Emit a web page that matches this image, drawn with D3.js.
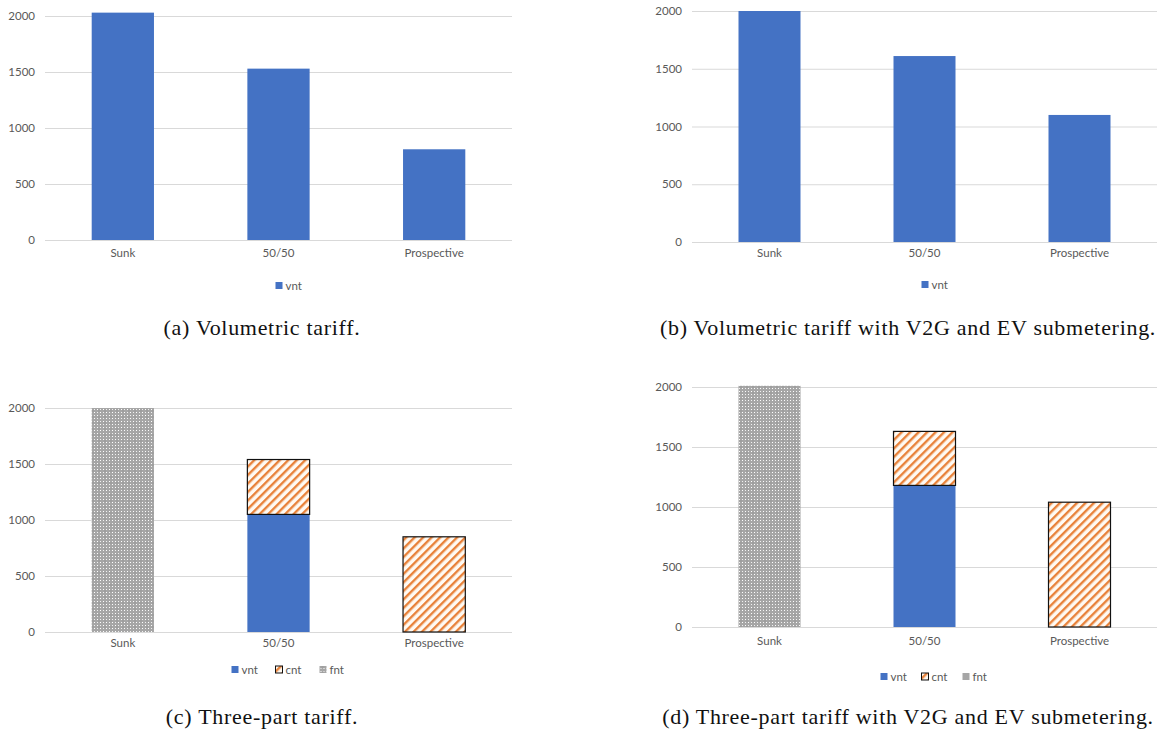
<!DOCTYPE html>
<html>
<head>
<meta charset="utf-8">
<script src="https://cdn.jsdelivr.net/npm/d3@7"></script>
<style>
  body { margin: 0; background: #fff; }
  .tick text { font-family: Lato, "Liberation Sans", sans-serif; font-size: 11.5px; fill: #595959; }
  .caption { font-family: "Liberation Serif", "DejaVu Serif", serif; font-size: 22px; letter-spacing: 0.7px; fill: #111; }
  .legend text { font-family: Lato, "Liberation Sans", sans-serif; font-size: 11.5px; fill: #595959; }
</style>
</head>
<body>
<svg id="chart" width="1163" height="733"></svg>
<script>
// categories and values
const categories = ["Sunk", "50/50", "Prospective"];
const yTicks = [0, 500, 1000, 1500, 2000];

// (a) volumetric tariff
const vntA = [2030, 1530, 810];
// (b) volumetric tariff with V2G and EV submetering
const vntB = [2000, 1610, 1100];
// (c) three-part tariff
const vntC = [0, 1050, 0];
const cntC = [0, 490, 850];
const fntC = [2000, 0, 0];
// (d) three-part tariff with V2G and EV submetering
const vntD = [0, 1180, 0];
const cntD = [0, 450, 1040];
const fntD = [2010, 0, 0];

const captions = [
  "(a) Volumetric tariff.",
  "(b) Volumetric tariff with V2G and EV submetering.",
  "(c) Three-part tariff.",
  "(d) Three-part tariff with V2G and EV submetering."
];

const blue = "#4472C4";
const orange = "#E8823A";

const svg = d3.select("#chart");
const defs = svg.append("defs");

// orange diagonal hatch (cnt)
let hatch = defs.append("pattern")
  .attr("id", "hatch")
  .attr("patternUnits", "userSpaceOnUse")
  .attr("width", 6).attr("height", 6)
  .attr("patternTransform", "rotate(45)");
hatch.append("rect").attr("width", 6).attr("height", 6).attr("fill", "#fffaf3");
hatch.append("rect").attr("x", 0).attr("width", 2.4).attr("height", 6).attr("fill", orange);

// gray confetti (fnt)
let dots = defs.append("pattern")
  .attr("id", "dots")
  .attr("patternUnits", "userSpaceOnUse")
  .attr("width", 6).attr("height", 6);
dots.append("rect").attr("width", 6).attr("height", 6).attr("fill", "#a6a6a6");
dots.append("rect").attr("x", 1).attr("y", 1).attr("width", 1).attr("height", 1).attr("fill", "#fff");
dots.append("rect").attr("x", 4).attr("y", 1).attr("width", 1).attr("height", 1).attr("fill", "#f0f0f0");
dots.append("rect").attr("x", 1).attr("y", 4).attr("width", 1).attr("height", 1).attr("fill", "#f0f0f0");
dots.append("rect").attr("x", 4).attr("y", 4).attr("width", 1).attr("height", 1).attr("fill", "#fff");
dots.append("rect").attr("x", 2.5).attr("y", 2.5).attr("width", 1).attr("height", 1).attr("fill", "#888");

const panels = [
  { x0: 45, x1: 512, yTop: 16, yBot: 240, labelY: 257, legendY: 286, capX: 262, capY: 335,
    series: [{ key: "vnt", values: vntA, fill: blue }], legendGap: 0 },
  { x0: 692, x1: 1157, yTop: 11, yBot: 242, labelY: 257, legendY: 285, capX: 908, capY: 335,
    series: [{ key: "vnt", values: vntB, fill: blue }], legendGap: 0 },
  { x0: 45, x1: 512, yTop: 408, yBot: 632, labelY: 647, legendY: 670, capX: 262, capY: 724,
    series: [
      { key: "vnt", values: vntC, fill: blue },
      { key: "cnt", values: cntC, fill: "url(#hatch)", outline: true },
      { key: "fnt", values: fntC, fill: "url(#dots)" }
    ], legendGap: 44, fntSwatch: "url(#dots)" },
  { x0: 692, x1: 1157, yTop: 387, yBot: 627, labelY: 645, legendY: 677, capX: 908, capY: 724,
    series: [
      { key: "vnt", values: vntD, fill: blue },
      { key: "cnt", values: cntD, fill: "url(#hatch)", outline: true },
      { key: "fnt", values: fntD, fill: "url(#dots)" }
    ], legendGap: 41, fntSwatch: "#a6a6a6" }
];

panels.forEach((p, i) => {
  let g = svg.append("g");

  let x = d3.scaleBand().domain(categories).range([p.x0, p.x1]).paddingInner(0.6).paddingOuter(0.3);
  let y = d3.scaleLinear().domain([0, 2000]).range([p.yBot, p.yTop]);

  // gridlines + tick labels
  let yAxis = g.append("g")
    .attr("transform", "translate(" + p.x0 + ",0)")
    .call(d3.axisLeft(y).tickValues(yTicks).tickFormat(d3.format("d"))
      .tickSize(-(p.x1 - p.x0)).tickPadding(10));
  yAxis.select(".domain").remove();
  yAxis.selectAll(".tick line").attr("stroke", "#d9d9d9").attr("stroke-width", 1);

  // x labels
  let xAxis = g.append("g")
    .attr("transform", "translate(0," + (p.labelY - 12) + ")")
    .call(d3.axisBottom(x).tickSize(0).tickPadding(4));
  xAxis.select(".domain").remove();

  // stacked bars
  let rows = categories.map((c, j) => {
    let r = { cat: c };
    p.series.forEach(s => r[s.key] = s.values[j]);
    return r;
  });
  let stack = d3.stack().keys(p.series.map(s => s.key))(rows);

  stack.forEach((layer, k) => {
    let s = p.series[k];
    g.append("g").selectAll("rect")
      .data(layer.filter(d => d[1] - d[0] > 0))
      .enter().append("rect")
      .attr("x", d => x(d.data.cat))
      .attr("y", d => y(d[1]))
      .attr("width", x.bandwidth())
      .attr("height", d => y(d[0]) - y(d[1]))
      .attr("fill", s.fill)
      .attr("stroke", s.outline ? "#111" : "none")
      .attr("stroke-width", s.outline ? 1.2 : 0);
  });

  // legend
  let leg = g.append("g").attr("class", "legend");
  let n = p.series.length;
  let total = (n - 1) * p.legendGap + 26;
  let lx = (p.x0 + p.x1) / 2 - total / 2 + 10;
  p.series.forEach((s, k) => {
    let it = leg.append("g").attr("transform", "translate(" + (lx + k * p.legendGap) + "," + p.legendY + ")");
    let sw = s.key === "fnt" ? p.fntSwatch : s.fill;
    it.append("rect").attr("x", 0).attr("y", -4).attr("width", 7).attr("height", 7)
      .attr("fill", sw)
      .attr("stroke", s.outline ? "#111" : "none").attr("stroke-width", s.outline ? 1 : 0);
    it.append("text").attr("x", 10).attr("y", 0).attr("dy", "0.35em").text(s.key);
  });

  // caption
  svg.append("text").attr("class", "caption")
    .attr("x", p.capX).attr("y", p.capY)
    .attr("text-anchor", "middle")
    .text(captions[i]);
});
</script>
</body>
</html>
